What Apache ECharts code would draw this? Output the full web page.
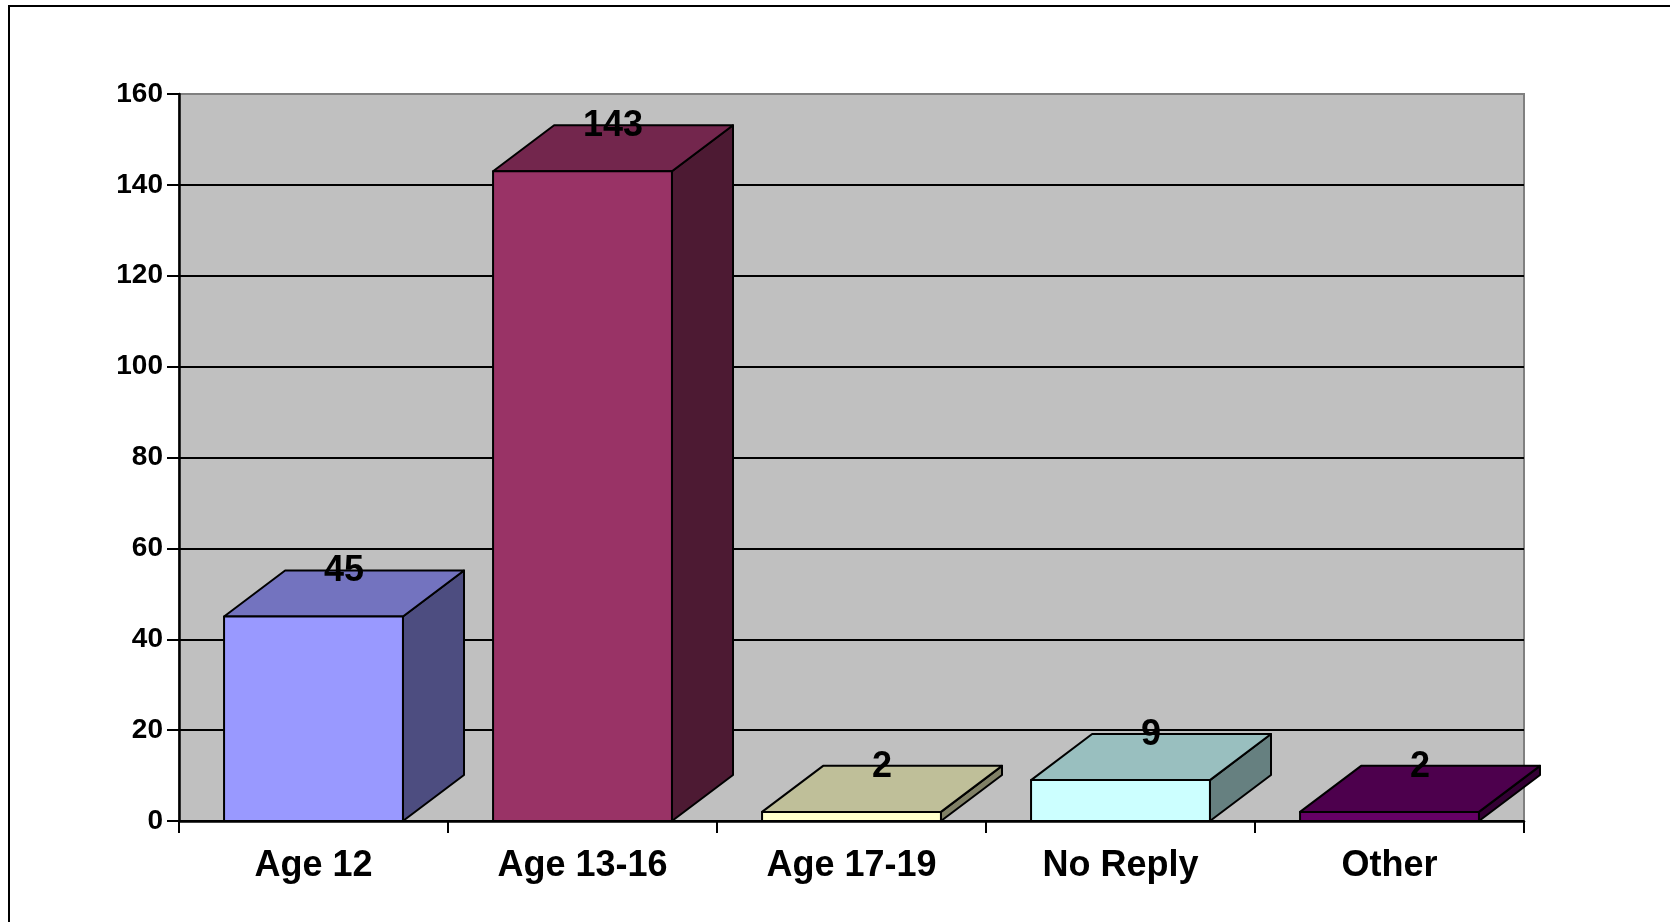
<!DOCTYPE html>
<html>
<head>
<meta charset="utf-8">
<script src="https://cdn.jsdelivr.net/npm/echarts@6/dist/echarts.min.js"></script>
<style>
html,body{margin:0;padding:0;background:#fff;}
#chart{width:1670px;height:922px;}
</style>
</head>
<body>
<div id="chart"></div>
<script>
var categories = ['Age 12', 'Age 13-16', 'Age 17-19', 'No Reply', 'Other'];
var values = [45, 143, 2, 9, 2];
var frontColors = ['#9999FF', '#993366', '#FFFFCC', '#CCFFFF', '#660066'];
var yTicks = [0, 20, 40, 60, 80, 100, 120, 140, 160];

function shade(hex, f) {
  var n = parseInt(hex.slice(1), 16);
  var r = Math.round(((n >> 16) & 255) * f);
  var g = Math.round(((n >> 8) & 255) * f);
  var b = Math.round((n & 255) * f);
  return 'rgb(' + r + ',' + g + ',' + b + ')';
}

var chart = echarts.init(document.getElementById('chart'), null, {renderer: 'canvas'});
var FONT = 'Liberation Sans, Arial, sans-serif';

var option = {
  animation: false,
  backgroundColor: '#ffffff',
  graphic: [{
    type: 'rect',
    shape: {x: 9, y: 6, width: 1700, height: 1000},
    style: {fill: 'none', stroke: '#000', lineWidth: 2},
    z: 100
  }],
  grid: {
    left: 179, top: 94, right: 146, bottom: 101,
    show: true, backgroundColor: '#C0C0C0', borderColor: '#808080', borderWidth: 2
  },
  xAxis: {
    type: 'category',
    data: categories,
    axisLine: {show: true, lineStyle: {color: '#000', width: 2.5}},
    axisTick: {show: true, length: 12, lineStyle: {color: '#000', width: 2}},
    axisLabel: {color: '#000', fontFamily: FONT, fontWeight: 'bold', fontSize: 36, margin: 27},
    splitLine: {show: false}
  },
  yAxis: {
    type: 'value',
    min: yTicks[0], max: yTicks[yTicks.length - 1], interval: 20,
    axisLine: {show: true, lineStyle: {color: '#000', width: 2.5}},
    axisTick: {show: true, length: 12, lineStyle: {color: '#000', width: 2}},
    axisLabel: {color: '#000', fontFamily: FONT, fontWeight: 'bold', fontSize: 28, margin: 16},
    splitLine: {show: true, lineStyle: {color: ['#000','#000','#000','#000','#000','#000','#000','#000','#808080'], width: 2}}
  },
  series: [{
    type: 'custom',
    clip: false,
    encode: {x: 0, y: 1},
    data: values.map(function (v, i) { return [i, v]; }),
    renderItem: function (params, api) {
      var idx = api.value(0), v = api.value(1);
      var top = api.coord([idx, v]);
      var base = api.coord([idx, 0]);
      var band = api.size([1, 0])[0];
      var w = band * 0.665;
      var dx = band * 0.227, dy = dx * 0.754;
      var cx = top[0];
      var x0 = cx - w / 2, x1 = cx + w / 2, yT = top[1], yB = base[1];
      var col = frontColors[params.dataIndex];
      var stroke = {stroke: '#000', lineWidth: 2, lineJoin: 'round'};
      return {
        type: 'group',
        children: [
          {type: 'polygon', shape: {points: [[x1, yB], [x1 + dx, yB - dy], [x1 + dx, yT - dy], [x1, yT]]},
            style: Object.assign({fill: shade(col, 0.5)}, stroke)},
          {type: 'polygon', shape: {points: [[x0, yT], [x0 + dx, yT - dy], [x1 + dx, yT - dy], [x1, yT]]},
            style: Object.assign({fill: shade(col, 0.75)}, stroke)},
          {type: 'rect', shape: {x: x0, y: yT, width: w, height: yB - yT},
            style: Object.assign({fill: col}, stroke)},
          {type: 'text', x: cx + dx / 2, y: yT - dy + 1,
            style: {text: String(v), fill: '#000', font: 'bold 36px ' + FONT, align: 'center', verticalAlign: 'middle'}}
        ]
      };
    }
  }]
};
chart.setOption(option);
</script>
</body>
</html>
